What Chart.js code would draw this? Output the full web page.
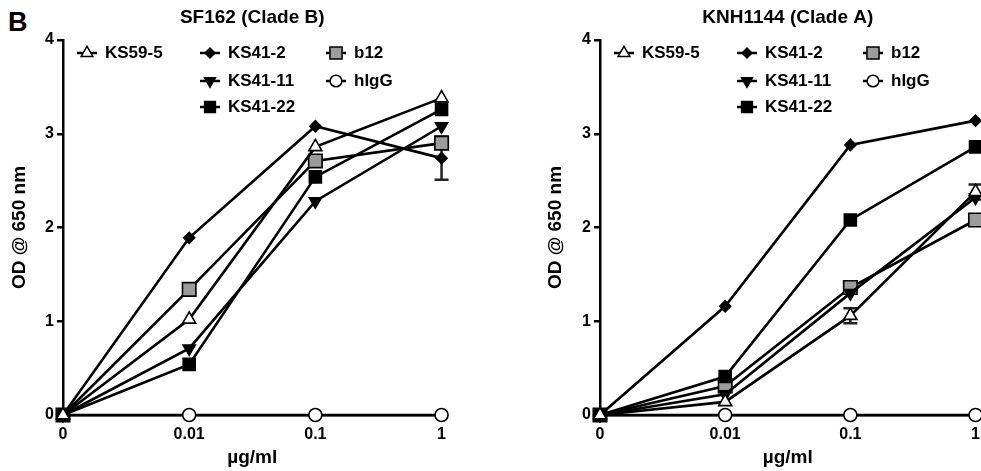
<!DOCTYPE html>
<html>
<head>
<meta charset="utf-8">
<script src="https://cdn.jsdelivr.net/npm/chart.js@4.4.0/dist/chart.umd.min.js"></script>
<style>
  html, body { margin: 0; padding: 0; background: #fff; overflow: hidden; width: 981px; height: 471px; }
  #panelLetter { position: absolute; left: 8px; top: 9px; font: bold 27px 'Liberation Sans', Arial, sans-serif; line-height: 27px; color: #000; }
  #left { position: absolute; left: 0; top: 0; }
  #right { position: absolute; left: 536px; top: 0; }
</style>
</head>
<body>
<div id="panelLetter">B</div>
<canvas id="left" width="456" height="471"></canvas>
<canvas id="right" width="454" height="471"></canvas>
<script>
// x categories (antibody concentration)
const doses = ['0', '0.01', '0.1', '1'];
const seriesNames = ['KS59-5', 'KS41-2', 'KS41-11', 'KS41-22', 'b12', 'hIgG'];

// SF162 (Clade B) - OD @ 650 nm
const sf162_KS59_5  = [0, 1.02, 2.86, 3.38];
const sf162_KS41_2  = [0, 1.89, 3.08, 2.74];
const sf162_KS41_11 = [0, 0.71, 2.28, 3.08];
const sf162_KS41_22 = [0, 0.54, 2.54, 3.26];
const sf162_b12     = [0, 1.34, 2.71, 2.90];
const sf162_hIgG    = [0, 0, 0, 0];
const sf162_err_KS41_2 = [0, 0, 0, 0.23];

// KNH1144 (Clade A) - OD @ 650 nm
const knh_KS59_5  = [0, 0.14, 1.06, 2.38];
const knh_KS41_2  = [0, 1.16, 2.88, 3.14];
const knh_KS41_11 = [0, 0.22, 1.30, 2.32];
const knh_KS41_22 = [0, 0.41, 2.08, 2.86];
const knh_b12     = [0, 0.31, 1.36, 2.08];
const knh_hIgG    = [0, 0, 0, 0];
const knh_err_KS59_5 = [0, 0, 0.08, 0.08];

const yTicks = [0, 1, 2, 3, 4];

// marker looks for each series
const looks = {
  'KS59-5':  { pointStyle: 'triangle', radius: 7.5, rotation: 0,   fill: '#fff' },
  'KS41-2':  { pointStyle: 'rectRot',  radius: 5.5, rotation: 0,   fill: '#000' },
  'KS41-11': { pointStyle: 'triangle', radius: 7,   rotation: 180, fill: '#000' },
  'KS41-22': { pointStyle: 'rect',     radius: 8.5, rotation: 0,   fill: '#000' },
  'b12':     { pointStyle: 'rect',     radius: 9.5, rotation: 0,   fill: '#9c9c9c' },
  'hIgG':    { pointStyle: 'circle',   radius: 6.5, rotation: 0,   fill: '#fff' }
};

// legend layout inside the plot: column / row per series
const legendSlots = [
  { name: 'KS59-5', col: 0, row: 0 },
  { name: 'KS41-2', col: 1, row: 0 },
  { name: 'KS41-11', col: 1, row: 1 },
  { name: 'KS41-22', col: 1, row: 2 },
  { name: 'b12', col: 2, row: 0 },
  { name: 'hIgG', col: 2, row: 1 }
];
const legendColX = [24, 147, 273];
const legendRowY = [13, 41, 67];

Chart.defaults.font.family = "'Liberation Sans', Arial, sans-serif";
Chart.defaults.color = '#000';

const errorBars = {
  id: 'errorBars',
  beforeDatasetsDraw(chart) {
    const ctx = chart.ctx, y = chart.scales.y;
    chart.data.datasets.forEach((ds, i) => {
      if (!ds.errors) return;
      const meta = chart.getDatasetMeta(i);
      ds.errors.forEach((e, j) => {
        if (!e) return;
        const px = meta.data[j].x;
        const top = y.getPixelForValue(ds.data[j] + e);
        const bot = y.getPixelForValue(ds.data[j] - e);
        ctx.save();
        ctx.strokeStyle = '#222';
        ctx.lineWidth = 2.5;
        ctx.beginPath();
        ctx.moveTo(px, top); ctx.lineTo(px, bot);
        ctx.moveTo(px - 7, top); ctx.lineTo(px + 7, top);
        ctx.moveTo(px - 7, bot); ctx.lineTo(px + 7, bot);
        ctx.stroke();
        ctx.restore();
      });
    });
  }
};

const insideLegend = {
  id: 'insideLegend',
  afterDraw(chart) {
    const ctx = chart.ctx, area = chart.chartArea;
    ctx.save();
    legendSlots.forEach(slot => {
      const lk = looks[slot.name];
      const x = area.left + legendColX[slot.col];
      const y = area.top + legendRowY[slot.row];
      ctx.strokeStyle = '#000';
      ctx.lineWidth = 2.5;
      ctx.beginPath();
      ctx.moveTo(x - 10, y); ctx.lineTo(x + 10, y);
      ctx.stroke();
      ctx.fillStyle = lk.fill;
      ctx.lineWidth = 1.5;
      Chart.helpers.drawPoint(ctx, { pointStyle: lk.pointStyle, radius: lk.radius * 0.9, rotation: lk.rotation, borderWidth: 1.5 }, x, y);
      ctx.fillStyle = '#000';
      ctx.font = "bold 17px 'Liberation Sans', Arial, sans-serif";
      ctx.textAlign = 'left';
      ctx.textBaseline = 'middle';
      ctx.fillText(slot.name, x + 18, y);
    });
    ctx.restore();
  }
};

function makeChart(id, title, values, errors, axisWidth) {
  return new Chart(document.getElementById(id), {
    type: 'line',
    data: {
      labels: doses,
      datasets: seriesNames.map((name, i) => ({
        label: name,
        data: values[i],
        errors: errors[i],
        borderColor: '#000',
        borderWidth: 2.6,
        tension: 0,
        fill: false,
        clip: false,
        pointStyle: looks[name].pointStyle,
        pointRadius: looks[name].radius,
        pointRotation: looks[name].rotation,
        pointBackgroundColor: looks[name].fill,
        pointBorderColor: '#000',
        pointBorderWidth: 1.6
      }))
    },
    options: {
      responsive: false,
      animation: false,
      events: [],
      layout: { padding: { top: 0, left: 0, right: 12, bottom: 0 } },
      plugins: {
        legend: { display: false },
        tooltip: { enabled: false },
        title: {
          display: true, text: title, fullSize: false, color: '#000',
          font: { size: 19, weight: 'bold' },
          padding: { top: 6, bottom: 11.2 }
        }
      },
      scales: {
        x: {
          type: 'category',
          offset: false,
          grid: { drawOnChartArea: false, drawTicks: false },
          border: { color: '#000', width: 2.5 },
          ticks: { font: { size: 16, weight: 'bold' }, color: '#000', padding: 10, maxRotation: 0, autoSkip: false },
          title: { display: true, text: 'µg/ml', color: '#000', font: { size: 19, weight: 'bold' }, padding: { top: 0, bottom: 2 } },
          afterFit: s => { s.height = 56; }
        },
        y: {
          min: 0, max: 4,
          afterBuildTicks: s => { s.ticks = yTicks.map(v => ({ value: v })); },
          ticks: { font: { size: 16, weight: 'bold' }, color: '#000', padding: 3 },
          grid: { drawOnChartArea: false, drawTicks: true, tickLength: 6, color: '#000', lineWidth: 2.5 },
          border: { color: '#000', width: 2.5 },
          title: { display: true, text: 'OD @ 650 nm', color: '#000', font: { size: 19, weight: 'bold' }, padding: { top: 8, bottom: 0 } },
          afterFit: s => { s.width = axisWidth; }
        }
      }
    },
    plugins: [errorBars, insideLegend]
  });
}

makeChart('left', 'SF162 (Clade B)',
  [sf162_KS59_5, sf162_KS41_2, sf162_KS41_11, sf162_KS41_22, sf162_b12, sf162_hIgG],
  [null, sf162_err_KS41_2, null, null, null, null], 63);

makeChart('right', 'KNH1144 (Clade A)',
  [knh_KS59_5, knh_KS41_2, knh_KS41_11, knh_KS41_22, knh_b12, knh_hIgG],
  [knh_err_KS59_5, null, null, null, null, null], 64);
</script>
</body>
</html>
